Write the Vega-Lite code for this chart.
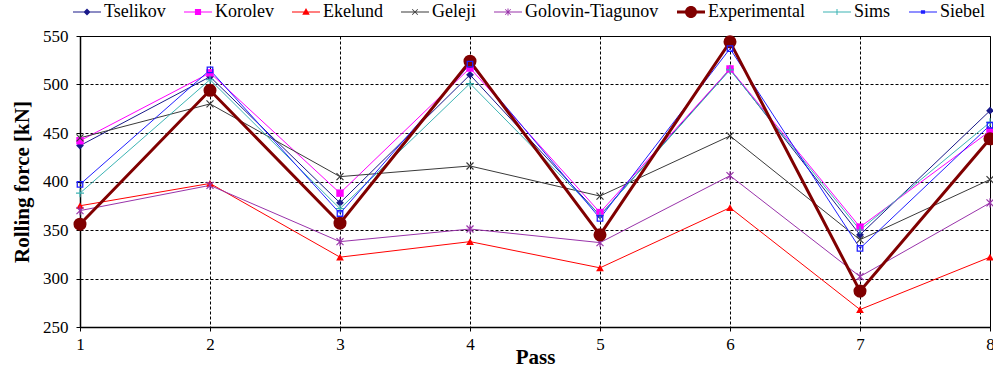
{
  "$schema": "https://vega.github.io/schema/vega-lite/v6.json",
  "width": 910,
  "height": 291,
  "autosize": {"type": "none"},
  "padding": {"left": 80, "top": 36, "right": 3, "bottom": 41},
  "background": "white",
  "config": {
    "font": "Liberation Serif, Times New Roman, serif",
    "view": {"stroke": "black", "strokeWidth": 1},
    "axis": {
      "labelFont": "Liberation Serif, Times New Roman, serif", "labelFontSize": 17, "labelColor": "black",
      "titleFont": "Liberation Serif, Times New Roman, serif", "titleFontSize": 21, "titleFontWeight": "bold", "titleColor": "black",
      "domainColor": "black", "domainWidth": 1.5, "tickColor": "black", "tickSize": 4,
      "gridColor": "black", "gridDash": [3, 2], "gridOpacity": 1, "gridWidth": 1
    }
  },
  "data": {"values": [
    {"model": "Tselikov", "pass": 1, "force": 437}, {"model": "Tselikov", "pass": 2, "force": 508}, {"model": "Tselikov", "pass": 3, "force": 378}, {"model": "Tselikov", "pass": 4, "force": 510},
    {"model": "Tselikov", "pass": 5, "force": 365}, {"model": "Tselikov", "pass": 6, "force": 516}, {"model": "Tselikov", "pass": 7, "force": 345}, {"model": "Tselikov", "pass": 8, "force": 473},
    {"model": "Korolev", "pass": 1, "force": 442}, {"model": "Korolev", "pass": 2, "force": 512}, {"model": "Korolev", "pass": 3, "force": 388}, {"model": "Korolev", "pass": 4, "force": 517},
    {"model": "Korolev", "pass": 5, "force": 368}, {"model": "Korolev", "pass": 6, "force": 516}, {"model": "Korolev", "pass": 7, "force": 353}, {"model": "Korolev", "pass": 8, "force": 452},
    {"model": "Ekelund", "pass": 1, "force": 375}, {"model": "Ekelund", "pass": 2, "force": 398}, {"model": "Ekelund", "pass": 3, "force": 322}, {"model": "Ekelund", "pass": 4, "force": 338},
    {"model": "Ekelund", "pass": 5, "force": 311}, {"model": "Ekelund", "pass": 6, "force": 373}, {"model": "Ekelund", "pass": 7, "force": 268}, {"model": "Ekelund", "pass": 8, "force": 322},
    {"model": "Geleji", "pass": 1, "force": 445}, {"model": "Geleji", "pass": 2, "force": 480}, {"model": "Geleji", "pass": 3, "force": 405}, {"model": "Geleji", "pass": 4, "force": 416},
    {"model": "Geleji", "pass": 5, "force": 385}, {"model": "Geleji", "pass": 6, "force": 447}, {"model": "Geleji", "pass": 7, "force": 340}, {"model": "Geleji", "pass": 8, "force": 402},
    {"model": "Golovin-Tiagunov", "pass": 1, "force": 370}, {"model": "Golovin-Tiagunov", "pass": 2, "force": 396}, {"model": "Golovin-Tiagunov", "pass": 3, "force": 338}, {"model": "Golovin-Tiagunov", "pass": 4, "force": 351},
    {"model": "Golovin-Tiagunov", "pass": 5, "force": 337}, {"model": "Golovin-Tiagunov", "pass": 6, "force": 406}, {"model": "Golovin-Tiagunov", "pass": 7, "force": 302}, {"model": "Golovin-Tiagunov", "pass": 8, "force": 378},
    {"model": "Experimental", "pass": 1, "force": 356}, {"model": "Experimental", "pass": 2, "force": 494}, {"model": "Experimental", "pass": 3, "force": 357}, {"model": "Experimental", "pass": 4, "force": 524},
    {"model": "Experimental", "pass": 5, "force": 345}, {"model": "Experimental", "pass": 6, "force": 544}, {"model": "Experimental", "pass": 7, "force": 287}, {"model": "Experimental", "pass": 8, "force": 444},
    {"model": "Sims", "pass": 1, "force": 388}, {"model": "Sims", "pass": 2, "force": 505}, {"model": "Sims", "pass": 3, "force": 372}, {"model": "Sims", "pass": 4, "force": 501},
    {"model": "Sims", "pass": 5, "force": 365}, {"model": "Sims", "pass": 6, "force": 515}, {"model": "Sims", "pass": 7, "force": 350}, {"model": "Sims", "pass": 8, "force": 461},
    {"model": "Siebel", "pass": 1, "force": 397}, {"model": "Siebel", "pass": 2, "force": 515}, {"model": "Siebel", "pass": 3, "force": 367}, {"model": "Siebel", "pass": 4, "force": 521},
    {"model": "Siebel", "pass": 5, "force": 362}, {"model": "Siebel", "pass": 6, "force": 537}, {"model": "Siebel", "pass": 7, "force": 331}, {"model": "Siebel", "pass": 8, "force": 458}
  ]},
  "encoding": {
    "x": {
      "field": "pass", "type": "quantitative",
      "scale": {"domain": [1, 8], "nice": false, "zero": false},
      "axis": {"values": [1, 2, 3, 4, 5, 6, 7, 8], "format": "d", "title": "Pass", "labelFlush": false, "labelPadding": 5, "titleY": 36, "titleBaseline": "alphabetic"}
    },
    "y": {
      "field": "force", "type": "quantitative",
      "scale": {"domain": [250, 550], "nice": false, "zero": false},
      "axis": {"values": [250, 300, 350, 400, 450, 500, 550], "title": "Rolling force [kN]", "labelPadding": 8, "titleX": -48, "titleBaseline": "bottom"}
    },
    "color": {
      "field": "model", "type": "nominal",
      "scale": {
        "domain": ["Tselikov", "Korolev", "Ekelund", "Geleji", "Golovin-Tiagunov", "Experimental", "Sims", "Siebel"],
        "range": ["#1a1a8a", "#FF00FF", "#FF0000", "#3a3a3a", "#9933AA", "#800000", "#3CB4B4", "#2020FF"]
      },
      "legend": {
        "orient": "none", "legendX": -7, "legendY": -38, "direction": "horizontal", "title": null,
        "columnPadding": 18, "labelFont": "Liberation Serif, Times New Roman, serif", "labelFontSize": 18, "labelColor": "black",
        "labelOffset": 3, "symbolSize": 784, "padding": 0, "rowPadding": 0, "labelLimit": 300,
        "encode": {"symbols": {"update": {
          "shape": {"scale": "shape", "field": "value"},
          "fill": {"scale": "color", "field": "value"},
          "stroke": {"value": "transparent"},
          "strokeWidth": {"value": 0},
          "opacity": {"value": 1},
          "size": {"value": 784}
        }}}
      }
    }
  },
  "layer": [
    {"transform": [{"filter": "datum.model !== 'Experimental'"}], "mark": {"type": "line", "strokeWidth": 1}},
    {"transform": [{"filter": "datum.model === 'Experimental'"}], "mark": {"type": "line", "strokeWidth": 3}},
    {"transform": [{"filter": "datum.model === 'Tselikov'"}], "mark": {"type": "point", "shape": "diamond", "size": 60, "filled": true, "opacity": 1}},
    {"transform": [{"filter": "datum.model === 'Korolev'"}], "mark": {"type": "point", "shape": "square", "size": 55, "filled": true, "opacity": 1}},
    {"transform": [{"filter": "datum.model === 'Ekelund'"}], "mark": {"type": "point", "shape": "triangle-up", "size": 60, "filled": true, "opacity": 1}},
    {"transform": [{"filter": "datum.model === 'Geleji'"}], "mark": {"type": "point", "shape": "M-1,-1L1,1M-1,1L1,-1", "size": 49, "filled": false, "strokeWidth": 1.2, "opacity": 1}},
    {"transform": [{"filter": "datum.model === 'Golovin-Tiagunov'"}], "mark": {"type": "point", "shape": "M-1,-1L1,1M-1,1L1,-1M0,-1.3V1.3", "size": 49, "filled": false, "strokeWidth": 1.2, "opacity": 1}},
    {"transform": [{"filter": "datum.model === 'Experimental'"}], "mark": {"type": "point", "shape": "circle", "size": 170, "filled": true, "opacity": 1}},
    {"transform": [{"filter": "datum.model === 'Sims'"}], "mark": {"type": "point", "shape": "M0,-1V1M-1,0H1", "size": 64, "filled": false, "strokeWidth": 1.2, "opacity": 1}},
    {"transform": [{"filter": "datum.model === 'Siebel'"}], "mark": {"type": "point", "shape": "square", "size": 30, "filled": false, "strokeWidth": 1.3, "opacity": 1}},
    {
      "transform": [{"filter": "datum.force < 0"}],
      "mark": {"type": "point", "filled": true, "opacity": 1},
      "encoding": {
        "shape": {
          "field": "model", "type": "nominal",
          "scale": {
            "domain": ["Tselikov", "Korolev", "Ekelund", "Geleji", "Golovin-Tiagunov", "Experimental", "Sims", "Siebel"],
            "range": [
              "M-1,-0.036H1V0.036H-1Z M0,-0.25L0.25,0L0,0.25L-0.25,0Z",
              "M-1,-0.036H1V0.036H-1Z M-0.22,-0.22H0.22V0.22H-0.22Z",
              "M-1,-0.036H1V0.036H-1Z M0,-0.28L0.27,0.2H-0.27Z",
              "M-1,-0.036H1V0.036H-1Z M-0.179,-0.221L0.221,0.179L0.179,0.221L-0.221,-0.179Z M-0.221,0.179L0.179,-0.221L0.221,-0.179L-0.179,0.221Z",
              "M-1,-0.036H1V0.036H-1Z M-0.179,-0.221L0.221,0.179L0.179,0.221L-0.221,-0.179Z M-0.221,0.179L0.179,-0.221L0.221,-0.179L-0.179,0.221Z M-0.036,-0.25H0.036V0.25H-0.036Z",
              "M-1,-0.11H1V0.11H-1Z M-0.43,0A0.43,0.43 0 1,1 0.43,0A0.43,0.43 0 1,1 -0.43,0Z",
              "M-1,-0.036H1V0.036H-1Z M-0.036,-0.22H0.036V0.22H-0.036Z",
              "M-1,-0.036H1V0.036H-1Z M-0.15,-0.12H0.15V0.12H-0.15Z"
            ]
          },
          "legend": {
            "orient": "none", "legendX": -7, "legendY": -38, "direction": "horizontal", "title": null,
            "columnPadding": 18, "labelFont": "Liberation Serif, Times New Roman, serif", "labelFontSize": 18, "labelColor": "black",
            "labelOffset": 3, "symbolSize": 784, "padding": 0, "rowPadding": 0, "labelLimit": 300
          }
        }
      }
    }
  ]
}
